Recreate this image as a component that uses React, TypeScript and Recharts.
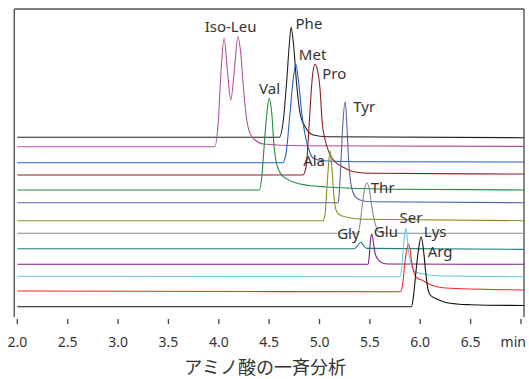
import { LineChart, Line, XAxis, YAxis, ReferenceLine, ReferenceDot } from 'recharts'

type Pt = [number, number]

// retention time (min), signal above own baseline
const phe: Pt[] = [[2.0, 0], [4.6, 0], [4.641, 17.3], [4.675, 57.3], [4.701, 94], [4.718, 110], [4.741, 94], [4.775, 50.6], [4.807, 24], [4.857, 10.6], [4.939, 2.3], [5.072, 0.6], [7.03, -0.4]]
const isoLeu: Pt[] = [[2.0, 0], [3.96, 0], [3.996, 26.7], [4.023, 76.7], [4.053, 108.4], [4.085, 76.7], [4.119, 46.7], [4.155, 76.7], [4.189, 110], [4.218, 93.4], [4.244, 60], [4.278, 26.7], [4.328, 10], [4.443, 2.7], [4.8, 1], [7.03, 0.3]]
const met: Pt[] = [[2.0, 0], [4.635, 0], [4.668, 9.4], [4.701, 42.7], [4.731, 76], [4.765, 98.7], [4.79, 82.7], [4.824, 49.4], [4.867, 22.7], [4.907, 9.4], [4.939, 4.4], [5.039, 2], [5.5, 1], [7.03, 0.7]]
const pro: Pt[] = [[2.0, 0], [4.835, 0], [4.867, 8.3], [4.89, 38.3], [4.914, 78.3], [4.933, 101.7], [4.956, 110.7], [4.979, 105], [5.006, 85], [5.026, 53], [5.056, 35], [5.105, 20], [5.172, 11.7], [5.237, 7.7], [5.337, 3.3], [5.535, 1.7], [7.03, 1]]
const val: Pt[] = [[2.0, 0], [4.405, 0], [4.427, 13.3], [4.45, 43.3], [4.477, 76.7], [4.5, 91.7], [4.526, 76.7], [4.549, 43.3], [4.582, 23.3], [4.642, 13.3], [4.807, 6], [5.072, 3], [5.8, 0.7], [7.03, 0]]
const tyr: Pt[] = [[2.0, 0], [5.185, 0], [5.198, 12.7], [5.215, 46], [5.232, 79.4], [5.255, 101], [5.271, 79.4], [5.287, 46], [5.311, 19.4], [5.354, 6], [5.403, 2.7], [5.502, 1], [7.03, 0]]
const ala: Pt[] = [[2.0, 0], [5.035, 0], [5.056, 7.4], [5.072, 30.7], [5.088, 54], [5.105, 70], [5.122, 54], [5.138, 30.7], [5.155, 14], [5.188, 6.7], [5.271, 3.4], [5.436, 1.4], [7.03, 0]]
const thr: Pt[] = [[2.0, 0], [5.38, 0], [5.403, 10], [5.423, 26.6], [5.446, 43.3], [5.47, 50.6], [5.496, 43.3], [5.519, 26.6], [5.552, 10], [5.585, 1.6], [5.668, 0], [7.03, 0]]
const gly: Pt[] = [[2.0, 0], [5.344, 0], [5.37, 2], [5.41, 6.4], [5.441, 2.7], [5.47, 0.3], [7.03, -0.7]]
const glu: Pt[] = [[2.0, 0], [5.483, 0], [5.496, 11], [5.506, 24.3], [5.52, 30.3], [5.536, 21], [5.552, 11], [5.579, 5], [5.619, 1.6], [5.684, 0.3], [7.03, 0]]
const ser: Pt[] = [[2.0, 0.5], [5.797, 0], [5.817, 10], [5.833, 30], [5.847, 43.4], [5.857, 48.4], [5.867, 43.4], [5.883, 26.7], [5.907, 13.4], [5.949, 5], [6.032, 2.7], [6.198, 0.7], [7.03, 0]]
const arg: Pt[] = [[2.0, 0.7], [5.803, 0], [5.827, 8.4], [5.843, 25], [5.86, 38.4], [5.883, 47.7], [5.9, 41.7], [5.917, 28.4], [5.94, 18.4], [5.972, 13.4], [6.016, 11.7], [6.072, 8.4], [6.165, 5], [6.297, 3.4], [7.03, 1.7]]
const lys: Pt[] = [[2.0, 0], [5.912, 0], [5.932, 10], [5.959, 36.7], [5.982, 56.7], [6.009, 70], [6.032, 56.7], [6.052, 36.7], [6.072, 20], [6.099, 11.7], [6.149, 8.4], [6.23, 5], [6.364, 2.7], [6.496, 2], [7.03, 1.2]]

const names = ['Phe', 'Iso-Leu', 'Met', 'Pro', 'Val', 'Tyr', 'Ala', 'Thr', 'Gly', 'Glu', 'Ser', 'Arg', 'Lys']
const series = [phe, isoLeu, met, pro, val, tyr, ala, thr, gly, glu, ser, arg, lys]
// stacked display offsets of each chromatogram
const baselineOffsets = [179.7, 170.3, 154.3, 142, 127, 114.3, 96.3, 83.7, 68.3, 52.7, 40.3, 25.3, 10.3]
const xTicks = [2, 2.5, 3, 3.5, 4, 4.5, 5, 5.5, 6, 6.5, 7]

const colors = ['#231f20', '#b4509f', '#2660c0', '#8c1c24', '#1e8c3c', '#5566a0', '#8f8b26', '#8a8a8a', '#17807f', '#7a2282', '#6ccbdb', '#ee2b24', '#111111']
// where each peak name sits (time, level)
const labelSpots: Record<string, [number, number]> = {
  'Iso-Leu': [4.117, 285.3],
  Phe: [4.895, 287.7],
  Met: [4.931, 257],
  Pro: [5.147, 238],
  Val: [4.504, 222.7],
  Tyr: [5.443, 205.5],
  Ala: [4.946, 151],
  Thr: [5.627, 124.3],
  Gly: [5.287, 78],
  Glu: [5.659, 80.3],
  Ser: [5.908, 93.7],
  Lys: [6.148, 80.3],
  Arg: [6.197, 59.6],
}

const font = '"Noto Sans", "DejaVu Sans", sans-serif'

const traces = names.map((name, i) => ({
  name,
  color: colors[i],
  data: series[i].map(([t, h]) => ({ t, v: h + baselineOffsets[i] })),
}))

function TimeTick(props: any) {
  const { x, y, payload } = props
  const isLast = payload.value === 7
  return (
    <g>
      <line x1={x} x2={x} y1={y + 2} y2={y + 7} stroke="#444" strokeWidth={1.3} />
      <text
        x={isLast ? x + 5 : x}
        y={y + 30}
        textAnchor={isLast ? 'end' : 'middle'}
        fontSize={14}
        fontFamily={font}
        fill="#333"
      >
        {isLast ? 'min' : payload.value.toFixed(1)}
      </text>
    </g>
  )
}

export default function App() {
  return (
    <div style={{ position: 'absolute', left: 0, top: 0, background: '#fff' }}>
      <LineChart width={529} height={379} margin={{ top: 9, right: 5, left: 14.3, bottom: 0 }}>
        <XAxis
          type="number"
          dataKey="t"
          domain={[1.97, 7.03]}
          ticks={xTicks}
          allowDataOverflow
          axisLine={false}
          tickLine={false}
          tickSize={0}
          tickMargin={0}
          height={62}
          tick={<TimeTick />}
          label={{
            content: (p: any) => {
              const vb = p.viewBox
              return (
                <text x={vb.x + vb.width / 2 - 4} y={374} textAnchor="middle" fontSize={18} fontFamily='"Noto Sans CJK JP", sans-serif' fill="#333">
                  アミノ酸の一斉分析
                </text>
              )
            },
          }}
        />
        <YAxis type="number" domain={[0, 308]} hide allowDataOverflow />
        <ReferenceLine y={308} stroke="#555" strokeWidth={1.4} />
        <ReferenceLine x={1.97} stroke="#555" strokeWidth={1.4} />
        <ReferenceLine x={7.03} stroke="#555" strokeWidth={1.4} />
        {traces.map((tr) => (
          <Line
            key={tr.name}
            data={tr.data}
            dataKey="v"
            type="monotone"
            stroke={tr.color}
            strokeWidth={1.1}
            dot={false}
            isAnimationActive={false}
          />
        ))}
        {names.map((name) => (
          <ReferenceDot
            key={'lb-' + name}
            x={labelSpots[name][0]}
            y={labelSpots[name][1]}
            ifOverflow="visible"
            shape={(p: any) => (
              <text x={p.cx} y={p.cy} textAnchor="middle" fontSize={15} fontFamily={font} fill="#333">
                {name}
              </text>
            )}
          />
        ))}
      </LineChart>
    </div>
  )
}
